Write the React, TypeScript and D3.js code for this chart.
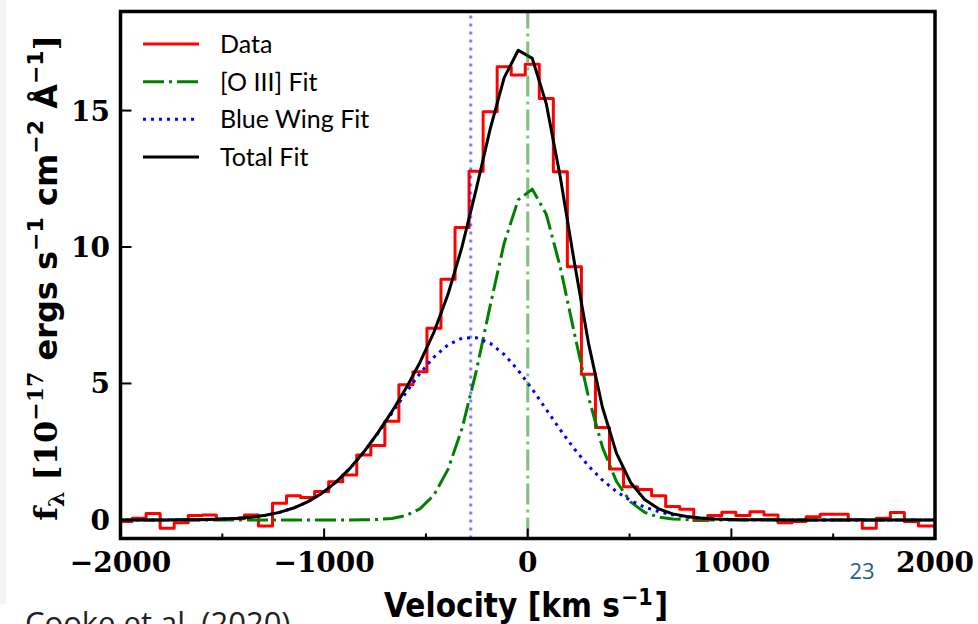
import React from "react";
import * as d3 from "d3";

// Bin centres of the spectrum (km/s)
const velocity = [
  -2046.6, -1977.6, -1908.7, -1839.7, -1770.8, -1701.8, -1632.8, -1563.9, -1494.9, -1426.0,
  -1357.0, -1288.0, -1219.1, -1150.1, -1081.2, -1012.2, -943.2, -874.3, -805.3, -736.3,
  -667.4, -598.4, -529.5, -460.5, -391.6, -322.6, -253.6, -184.7, -115.7, -46.8,
  22.2, 91.2, 160.1, 229.1, 298.0, 367.0, 436.0, 504.9, 573.9, 642.8,
  711.8, 780.8, 849.7, 918.7, 987.6, 1056.6, 1125.6, 1194.5, 1263.5, 1332.4,
  1401.4, 1470.4, 1539.3, 1608.3, 1677.2, 1746.2, 1815.2, 1884.1, 1953.1, 2022.0,
];

// Observed flux (1e-17 erg/s/cm2/A)
const dataFlux = [
  -0.06, -0.06, 0.06, 0.24, -0.3, -0.1, 0.16, 0.18, 0.03, 0.04,
  0.18, -0.22, 0.61, 0.89, 0.82, 1.04, 1.4, 1.65, 2.38, 2.73,
  3.62, 4.95, 5.43, 7.02, 8.82, 10.72, 12.78, 14.96, 16.61, 16.3,
  16.7, 15.44, 12.76, 9.28, 5.34, 3.39, 1.87, 1.22, 1.12, 0.89,
  0.49, 0.39, -0.02, 0.16, 0.28, 0.16, 0.3, 0.18, -0.1, -0.06,
  0.12, 0.21, 0.21, 0.02, -0.3, 0.06, 0.27, -0.06, -0.22, -0.22,
];

// [O III] core fit
const oiiiFit = [
  0, 0, 0, 0, 0, 0, 0, 0, 0, 0,
  0, 0, 0, 0, 0, 0, 0, 0.001, 0.005, 0.018,
  0.056, 0.16, 0.404, 0.915, 1.852, 3.352, 5.425, 7.844, 10.145, 11.728,
  12.121, 11.199, 9.251, 6.83, 4.51, 2.661, 1.403, 0.662, 0.279, 0.105,
  0.036, 0.011, 0.003, 0.001, 0, 0, 0, 0, 0, 0,
  0, 0, 0, 0, 0, 0, 0, 0, 0, 0,
];

// Blue wing fit
const blueWingFit = [
  0, 0, 0.001, 0.001, 0.002, 0.005, 0.009, 0.017, 0.033, 0.058,
  0.102, 0.171, 0.278, 0.437, 0.662, 0.971, 1.374, 1.879, 2.484, 3.172,
  3.911, 4.662, 5.367, 5.97, 6.415, 6.66, 6.68, 6.474, 6.061, 5.483,
  4.791, 4.045, 3.3, 2.6, 1.98, 1.457, 1.035, 0.711, 0.471, 0.302,
  0.187, 0.112, 0.065, 0.036, 0.02, 0.01, 0.005, 0.003, 0.001, 0.001,
  0, 0, 0, 0, 0, 0, 0, 0, 0, 0,
];

// Total fit
const totalFit = [
  0, 0, 0.001, 0.001, 0.002, 0.005, 0.009, 0.017, 0.033, 0.058,
  0.102, 0.171, 0.278, 0.437, 0.662, 0.971, 1.374, 1.88, 2.489, 3.19,
  3.967, 4.822, 5.771, 6.885, 8.267, 10.012, 12.105, 14.318, 16.206, 17.211,
  16.912, 15.244, 12.551, 9.43, 6.49, 4.118, 2.438, 1.373, 0.75, 0.407,
  0.223, 0.123, 0.068, 0.037, 0.02, 0.01, 0.005, 0.003, 0.001, 0.001,
  0, 0, 0, 0, 0, 0, 0, 0, 0, 0,
];

const xTickValues = [-2000, -1000, 0, 1000, 2000];
const xMinorTickValues = [-1500, -500, 500, 1500];
const yTickValues = [0, 5, 10, 15];
const xDomain = [-2000, 2000];
const yDomain = [-0.68, 18.63];
const oiiiCentre = 0;
const blueWingCentre = -280;
const legendLabels = ["Data", "[O III] Fit", "Blue Wing Fit", "Total Fit"];

const RED = "#ff0000";
const GREEN = "#008000";
const BLUE = "#0000ff";
const DASHDOT = "21,5,3,5";
const DOTTED = "3,5";

export default function App() {
  const left = 120.5;
  const right = 935;
  const top = 11.5;
  const bottom = 538.5;
  const x = d3.scaleLinear().domain(xDomain).range([left, right]);
  const y = d3.scaleLinear().domain(yDomain).range([bottom, top]);
  const fmt = d3.format("d");

  const lineGen = (curve: d3.CurveFactory) =>
    d3
      .line<number>()
      .x((_, i) => x(velocity[i]))
      .y((d) => y(d))
      .curve(curve);

  const dataPath = lineGen(d3.curveStep)(dataFlux) || "";
  const oiiiPath = lineGen(d3.curveLinear)(oiiiFit) || "";
  const bluePath = lineGen(d3.curveLinear)(blueWingFit) || "";
  const totalPath = lineGen(d3.curveLinear)(totalFit) || "";

  const legendStyles = [
    { color: RED, dash: undefined },
    { color: GREEN, dash: DASHDOT },
    { color: BLUE, dash: DOTTED },
    { color: "#000000", dash: undefined },
  ];
  const legendY = d3.scaleLinear().domain([0, 3]).range([44, 157]);

  const serif = "'DejaVu Serif', serif";
  const sans = "'DejaVu Sans', sans-serif";

  return (
    <svg
      width={978}
      height={624}
      style={{ position: "absolute", left: 0, top: 0, display: "block", background: "#ffffff" }}
    >
      <rect x={0} y={0} width={978} height={624} fill="#ffffff" />
      <rect x={0} y={0} width={6} height={604} fill="#f3f3f3" />
      <defs>
        <clipPath id="plotClip">
          <rect x={left} y={top} width={right - left} height={bottom - top} />
        </clipPath>
      </defs>

      <g clipPath="url(#plotClip)" fill="none" strokeLinejoin="round">
        <path d={dataPath} stroke={RED} strokeWidth={3} />
        <path d={oiiiPath} stroke={GREEN} strokeWidth={3} strokeDasharray={DASHDOT} />
        <path d={bluePath} stroke={BLUE} strokeWidth={3} strokeDasharray={DOTTED} />
        <path d={totalPath} stroke="#000000" strokeWidth={3} />
        <line
          x1={x(blueWingCentre)}
          x2={x(blueWingCentre)}
          y1={bottom}
          y2={top}
          stroke={BLUE}
          strokeOpacity={0.5}
          strokeWidth={3}
          strokeDasharray={DOTTED}
        />
        <line
          x1={x(oiiiCentre)}
          x2={x(oiiiCentre)}
          y1={bottom}
          y2={top}
          stroke={GREEN}
          strokeOpacity={0.5}
          strokeWidth={3}
          strokeDasharray={DASHDOT}
        />
      </g>

      {/* ticks */}
      <g stroke="#000" strokeWidth={2}>
        {xTickValues.map((v) => (
          <line key={"xt" + v} x1={x(v)} x2={x(v)} y1={bottom} y2={bottom - 10} />
        ))}
        {xMinorTickValues.map((v) => (
          <line key={"xm" + v} x1={x(v)} x2={x(v)} y1={bottom} y2={bottom - 5} />
        ))}
        {yTickValues.map((v) => (
          <line key={"yt" + v} x1={left} x2={left + 11} y1={y(v)} y2={y(v)} />
        ))}
      </g>
      <rect
        x={left}
        y={top}
        width={right - left}
        height={bottom - top}
        fill="none"
        stroke="#000"
        strokeWidth={3.5}
      />

      {/* tick labels */}
      <g fontFamily={serif} fontWeight="bold" fontSize={28} fill="#000">
        {xTickValues.map((v) => (
          <text key={"xl" + v} x={x(v)} y={572} textAnchor="middle">
            {fmt(v)}
          </text>
        ))}
        {yTickValues.map((v) => (
          <text key={"yl" + v} x={110} y={y(v) + 10} textAnchor="end">
            {fmt(v)}
          </text>
        ))}
      </g>

      {/* legend */}
      <g>
        {legendLabels.map((lab, i) => (
          <g key={lab}>
            <line
              x1={143}
              x2={199}
              y1={legendY(i)}
              y2={legendY(i)}
              stroke={legendStyles[i].color}
              strokeWidth={3}
              strokeDasharray={legendStyles[i].dash}
            />
            <text
              x={220}
              y={legendY(i) + 9}
              fontFamily="Lato, sans-serif"
              fontSize={25}
              fill="#000"
            >
              {lab}
            </text>
          </g>
        ))}
      </g>

      {/* y label */}
      <text
        transform="translate(57,278) rotate(-90)"
        textAnchor="middle"
        fontWeight="bold"
        fontSize={32}
        fill="#000"
        fontFamily={sans}
      >
        <tspan fontFamily={serif}>f</tspan>
        <tspan fontFamily={serif} fontSize={22} dy={7}>λ</tspan>
        <tspan fontFamily={serif} dy={-7}>{" [10"}</tspan>
        <tspan fontFamily={serif} fontSize={22} dy={-14}>−17</tspan>
        <tspan dy={14}>{" ergs s"}</tspan>
        <tspan fontSize={22} dy={-14}>−1</tspan>
        <tspan dy={14}>{" cm"}</tspan>
        <tspan fontSize={22} dy={-14}>−2</tspan>
        <tspan dy={14}>{" Å"}</tspan>
        <tspan fontSize={22} dy={-14}>−1</tspan>
        <tspan fontFamily={serif} dy={14}>]</tspan>
      </text>

      {/* x label */}
      <text
        x={526}
        y={617}
        textAnchor="middle"
        fontFamily={sans}
        fontWeight="bold"
        fontSize={33}
        fill="#000"
        textLength={284}
        lengthAdjust="spacingAndGlyphs"
      >
        {"Velocity [km s"}
        <tspan fontSize={23} dx={1} dy={-12}>−1</tspan>
        <tspan dx={2} dy={12}>]</tspan>
      </text>

      {/* slide decorations */}
      <text x={862} y={579} textAnchor="middle" fontFamily="'Open Sans', sans-serif" fontSize={22} fill="#1f5c99">
        23
      </text>
      <text x={25} y={634} fontFamily="'Open Sans', sans-serif" fontSize={31} fill="#222">
        Cooke et al. (2020)
      </text>
    </svg>
  );
}
